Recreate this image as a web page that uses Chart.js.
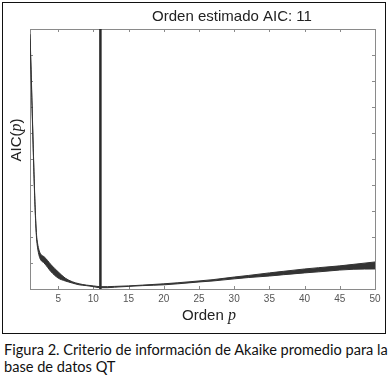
<!DOCTYPE html>
<html>
<head>
<meta charset="utf-8">
<script src="https://cdn.jsdelivr.net/npm/chart.js@4"></script>
<style>
  body { margin: 0; background: #fff; }
  #wrap { position: relative; width: 390px; height: 378px; }
  #frame { position: absolute; left: 2px; top: 2px; width: 382px; height: 330px; border: 1.5px solid #111; }
  canvas { position: absolute; left: 0; top: 0; }
  #caption { position: absolute; left: 4px; top: 341px; width: 390px; white-space: nowrap; font-family: Lato, "Noto Sans", sans-serif; font-size: 14.6px; line-height: 17px; color: #111; }
</style>
</head>
<body>
<div id="wrap">
  <div id="frame"></div>
  <canvas id="chart" width="390" height="336"></canvas>
  <div id="caption">Figura 2. Criterio de información de Akaike promedio para la<br>base de datos QT</div>
</div>
<script>
// orden p and the band (upper / lower bound) of the mean AIC, in plot units (0..10)
const ordenes = [1, 2, 3, 4, 5, 6, 7, 8, 9, 10, 11, 12, 13, 15, 17, 20, 22, 25, 27, 30, 32, 35, 37, 40, 42, 45, 47, 50];
const aicSup  = [9.8, 1.89, 1.24, 0.93, 0.66, 0.42, 0.28, 0.20, 0.15, 0.12, 0.09, 0.09, 0.10, 0.12, 0.15, 0.20, 0.24, 0.31, 0.36, 0.46, 0.52, 0.62, 0.68, 0.77, 0.82, 0.89, 0.95, 1.04];
const aicInf  = [9.6, 1.74, 1.00, 0.66, 0.42, 0.31, 0.23, 0.16, 0.13, 0.09, 0.05, 0.05, 0.07, 0.10, 0.13, 0.16, 0.20, 0.27, 0.31, 0.39, 0.44, 0.50, 0.55, 0.62, 0.66, 0.73, 0.76, 0.77];
const ordenEstimado = 11;
const xTicks = [5, 10, 15, 20, 25, 30, 35, 40, 45, 50];
const yTicks = [0, 1, 2, 3, 4, 5, 6, 7, 8, 9, 10];

const ink = '#333';

// frame, inward ticks and text labels
const decor = {
  id: 'decor',
  beforeDatasetsDraw(chart) {
    const { ctx, chartArea: a, scales } = chart;
    ctx.save();
    ctx.strokeStyle = '#8a8a8a';
    ctx.lineWidth = 1;
    ctx.strokeRect(a.left + 0.5, a.top + 0.5, a.right - a.left, a.bottom - a.top);
    ctx.beginPath();
    xTicks.forEach(v => {
      const x = Math.round(scales.x.getPixelForValue(v)) + 0.5;
      ctx.moveTo(x, a.bottom); ctx.lineTo(x, a.bottom - 3);
      ctx.moveTo(x, a.top); ctx.lineTo(x, a.top + 3);
    });
    yTicks.forEach(v => {
      const y = Math.round(scales.y.getPixelForValue(v)) + 0.5;
      ctx.moveTo(a.left, y); ctx.lineTo(a.left + 3, y);
      ctx.moveTo(a.right, y); ctx.lineTo(a.right - 3, y);
    });
    ctx.stroke();
    ctx.restore();
  },
  afterDraw(chart) {
    const { ctx } = chart;
    ctx.save();
    ctx.fillStyle = '#222';
    ctx.textBaseline = 'middle';
    ctx.font = '15px "Liberation Sans", Arial, sans-serif';
    ctx.textAlign = 'center';
    ctx.fillText('Orden estimado AIC: 11', 232, 17);

    // x label: Orden p
    const a = 'Orden ';
    ctx.font = '15px "Liberation Sans", Arial, sans-serif';
    const wa = ctx.measureText(a).width;
    ctx.font = 'italic 16px "Liberation Serif", serif';
    const wp = ctx.measureText('p').width;
    let x0 = 209 - (wa + wp) / 2;
    ctx.textAlign = 'left';
    ctx.font = '15px "Liberation Sans", Arial, sans-serif';
    ctx.fillText(a, x0, 316);
    ctx.font = 'italic 16px "Liberation Serif", serif';
    ctx.fillText('p', x0 + wa, 316);

    // y label: AIC(p)
    ctx.translate(17, 140);
    ctx.rotate(-Math.PI / 2);
    ctx.font = '15px "Liberation Sans", Arial, sans-serif';
    const w1 = ctx.measureText('AIC(').width;
    const w3 = ctx.measureText(')').width;
    ctx.font = 'italic 16px "Liberation Serif", serif';
    const w2 = ctx.measureText('p').width;
    let s = -(w1 + w2 + w3) / 2;
    ctx.font = '15px "Liberation Sans", Arial, sans-serif';
    ctx.fillText('AIC(', s, 0);
    ctx.font = 'italic 16px "Liberation Serif", serif';
    ctx.fillText('p', s + w1, 0);
    ctx.font = '15px "Liberation Sans", Arial, sans-serif';
    ctx.fillText(')', s + w1 + w2, 0);
    ctx.restore();
  }
};

new Chart(document.getElementById('chart'), {
  type: 'line',
  data: {
    datasets: [{
      data: ordenes.map((p, i) => ({ x: p, y: aicSup[i] })),
      borderColor: ink,
      borderWidth: 1,
      backgroundColor: ink,
      fill: '+1',
      pointRadius: 0,
      cubicInterpolationMode: 'monotone'
    }, {
      data: ordenes.map((p, i) => ({ x: p, y: aicInf[i] })),
      borderColor: ink,
      borderWidth: 1,
      fill: false,
      pointRadius: 0,
      cubicInterpolationMode: 'monotone'
    }, {
      data: [{ x: ordenEstimado, y: 0 }, { x: ordenEstimado, y: 10 }],
      borderColor: '#2a2a2a',
      borderWidth: 2.5,
      fill: false,
      pointRadius: 0
    }]
  },
  options: {
    responsive: false,
    animation: false,
    events: [],
    layout: { padding: { left: 30, right: 15, top: 29, bottom: 0 } },
    plugins: { legend: { display: false }, tooltip: { enabled: false } },
    scales: {
      x: {
        type: 'linear',
        min: 1,
        max: 50,
        afterBuildTicks: scale => { scale.ticks = xTicks.map(v => ({ value: v })); },
        afterFit: scale => { scale.height = 47; },
        grid: { display: false, drawTicks: false },
        border: { display: false },
        ticks: {
          padding: 4,
          maxRotation: 0,
          autoSkip: false,
          color: '#555',
          font: { family: '"Liberation Sans", Arial, sans-serif', size: 10 }
        }
      },
      y: {
        type: 'linear',
        min: 0,
        max: 10,
        display: false
      }
    }
  },
  plugins: [decor]
});
</script>
</body>
</html>
